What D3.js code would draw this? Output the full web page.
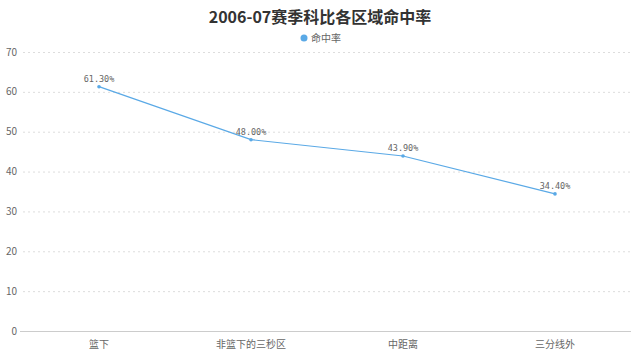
<!DOCTYPE html>
<html><head><meta charset="utf-8">
<script src="https://cdn.jsdelivr.net/npm/d3@7"></script>
<style>body{margin:0;background:#fff;}svg{display:block;font-family:"Noto Sans CJK SC","Noto Sans",sans-serif;}</style>
</head><body>
<svg id="c" width="640" height="358"></svg>
<script>
const categories = ["篮下","非篮下的三秒区","中距离","三分线外"];
const values = [61.3, 48.0, 43.9, 34.4];
const yTicks = [0,10,20,30,40,50,60,70];
const seriesName = "命中率";
const title = "2006-07赛季科比各区域命中率";

const svg = d3.select("#c");
const m = {l:23, r:631, t:52, b:331};
const x = d3.scaleBand().domain(categories).range([m.l, m.r]);
const y = d3.scaleLinear().domain([0,70]).range([m.b, m.t]);

svg.append("text").attr("x",320).attr("y",23).attr("text-anchor","middle")
  .attr("font-size",16).attr("font-weight","bold").attr("fill","#333").text(title);

svg.append("circle").attr("cx",304).attr("cy",38).attr("r",3.5).attr("fill","#5aa9e6");
svg.append("text").attr("x",311).attr("y",41.5).attr("font-size",10).attr("fill","#666").text(seriesName);

// grid
svg.append("g").selectAll("line").data(yTicks.filter(d=>d>0)).join("line")
  .attr("x1",m.l).attr("x2",m.r).attr("y1",d=>y(d)+0.5).attr("y2",d=>y(d)+0.5)
  .attr("stroke","#ddd").attr("stroke-dasharray","2,3");
// y labels
svg.append("g").selectAll("text").data(yTicks).join("text")
  .attr("x",17).attr("y",d=>y(d)+3.5).attr("text-anchor","end")
  .attr("font-size",10).attr("fill","#666").text(d=>d);
// x axis
svg.append("line").attr("x1",m.l-3).attr("x2",m.r).attr("y1",m.b+0.5).attr("y2",m.b+0.5).attr("stroke","#ccc");
svg.append("g").selectAll("text").data(categories).join("text")
  .attr("x",d=>x(d)+x.bandwidth()/2).attr("y",m.b+17).attr("text-anchor","middle")
  .attr("font-size",10).attr("fill","#666").text(d=>d);

const cx = (d,i)=>x(categories[i])+x.bandwidth()/2;
const line = d3.line().x(cx).y(d=>y(d));
svg.append("path").datum(values).attr("d",line).attr("fill","none").attr("stroke","#5aa9e6").attr("stroke-width",1.2);
svg.append("g").selectAll("circle").data(values).join("circle")
  .attr("cx",cx).attr("cy",d=>y(d)).attr("r",1.8).attr("fill","#5aa9e6");
svg.append("g").selectAll("text").data(values).join("text")
  .attr("x",cx).attr("y",d=>y(d)-5).attr("text-anchor","middle")
  .attr("font-family","DejaVu Sans Mono").attr("font-size",8.5).attr("fill","#666")
  .text(d=>d.toFixed(2)+"%");
</script>
</body></html>
